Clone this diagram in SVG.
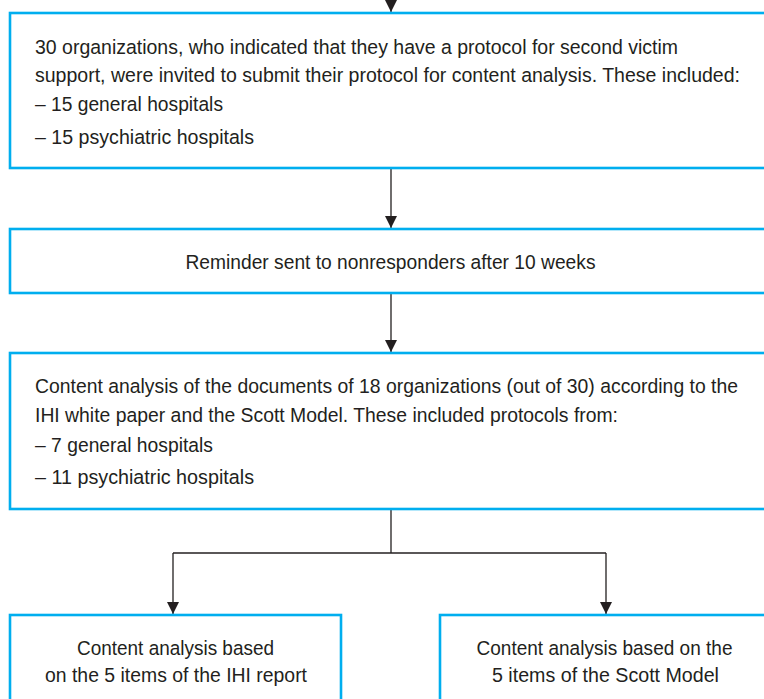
<svg xmlns="http://www.w3.org/2000/svg" width="764" height="699" viewBox="0 0 764 699">
<style>
.box{fill:#fff;stroke:#00AEEF;stroke-width:2.6}
.t{font-family:"Liberation Sans",Arial,sans-serif;font-size:20.5px;fill:#231F20}
.c{text-anchor:middle}
.conn{fill:none;stroke:#231F20;stroke-width:1.3}
</style>
<defs>
<marker id="ah" markerUnits="userSpaceOnUse" markerWidth="12" markerHeight="12" refX="12" refY="6" orient="auto" viewBox="0 0 12 12">
<path d="M0,0 L12,6 L0,12 z" fill="#231F20"/>
</marker>
</defs>
<rect width="764" height="699" fill="#fff"/>
<g id="connectors">
<line class="conn" x1="391" y1="-5" x2="391" y2="12" marker-end="url(#ah)"/>
<line class="conn" x1="391" y1="169" x2="391" y2="228" marker-end="url(#ah)"/>
<line class="conn" x1="391" y1="294" x2="391" y2="352" marker-end="url(#ah)"/>
<polyline class="conn" points="391,509 391,553"/>
<polyline class="conn" points="173,553 606,553"/>
<line class="conn" x1="173" y1="553" x2="173" y2="614" marker-end="url(#ah)"/>
<line class="conn" x1="606" y1="553" x2="606" y2="614" marker-end="url(#ah)"/>
</g>
<g id="node1">
<rect class="box" x="10" y="13" width="770" height="155"/>
<text class="t" x="35" y="54" textLength="643" lengthAdjust="spacingAndGlyphs">30 organizations, who indicated that they have a protocol for second victim</text>
<text class="t" x="35" y="82" textLength="705" lengthAdjust="spacingAndGlyphs">support, were invited to submit their protocol for content analysis. These included:</text>
<text class="t" x="35" y="111" textLength="188" lengthAdjust="spacingAndGlyphs">– 15 general hospitals</text>
<text class="t" x="35" y="144" textLength="219" lengthAdjust="spacingAndGlyphs">– 15 psychiatric hospitals</text>
</g>
<g id="node2">
<rect class="box" x="10" y="229" width="770" height="64"/>
<text class="t c" x="390.5" y="269" textLength="410" lengthAdjust="spacingAndGlyphs">Reminder sent to nonresponders after 10 weeks</text>
</g>
<g id="node3">
<rect class="box" x="10" y="353" width="770" height="156"/>
<text class="t" x="35" y="393" textLength="703" lengthAdjust="spacingAndGlyphs">Content analysis of the documents of 18 organizations (out of 30) according to the</text>
<text class="t" x="35" y="422" textLength="583" lengthAdjust="spacingAndGlyphs">IHI white paper and the Scott Model. These included protocols from:</text>
<text class="t" x="35" y="452" textLength="178" lengthAdjust="spacingAndGlyphs">– 7 general hospitals</text>
<text class="t" x="35" y="484" textLength="219" lengthAdjust="spacingAndGlyphs">– 11 psychiatric hospitals</text>
</g>
<g id="node4">
<rect class="box" x="10" y="615" width="331" height="100"/>
<text class="t c" x="175.5" y="655" textLength="197" lengthAdjust="spacingAndGlyphs">Content analysis based</text>
<text class="t c" x="176" y="682" textLength="262" lengthAdjust="spacingAndGlyphs">on the 5 items of the IHI report</text>
</g>
<g id="node5">
<rect class="box" x="440" y="615" width="340" height="100"/>
<text class="t c" x="604.5" y="655" textLength="256" lengthAdjust="spacingAndGlyphs">Content analysis based on the</text>
<text class="t c" x="605.5" y="682" textLength="227" lengthAdjust="spacingAndGlyphs">5 items of the Scott Model</text>
</g>
</svg>
